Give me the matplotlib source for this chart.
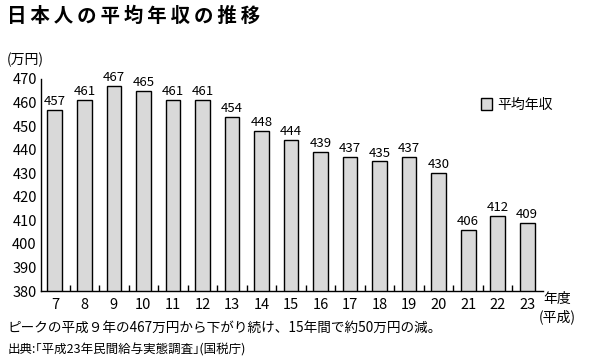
import matplotlib
matplotlib.use("Agg")
import matplotlib.pyplot as plt
from matplotlib.ticker import FixedLocator

plt.rcParams['font.family'] = ['Noto Sans CJK JP', 'DejaVu Sans']

years = ["7", "8", "9", "10", "11", "12", "13", "14", "15", "16", "17", "18", "19", "20", "21", "22", "23"]
income = [457, 461, 467, 465, 461, 461, 454, 448, 444, 439, 437, 435, 437, 430, 406, 412, 409]
yticks = [380, 390, 400, 410, 420, 430, 440, 450, 460, 470]

fig = plt.figure(figsize=(5.9, 3.62), dpi=100)
ax = fig.add_axes([0.0695, 0.196, 0.851, 0.586])

x = list(range(len(years)))
ax.bar(x, income, width=0.5, color="#d9d9d9", edgecolor="black", linewidth=1.0, label="平均年収")
for xi, v in zip(x, income):
    ax.text(xi, v + 0.8, str(v), ha="center", va="bottom", fontsize=9.5)

ax.set_ylim(380, 470)
ax.set_xlim(-0.47, len(years) - 0.46)
ax.set_yticks(yticks)
ax.set_yticklabels([str(t) for t in yticks], fontsize=10.5)
ax.tick_params(axis="y", length=0, pad=3)
ax.set_xticks(x)
ax.set_xticklabels(years, fontsize=10.5)
ax.tick_params(axis="x", which="major", length=0, pad=5)
ax.xaxis.set_minor_locator(FixedLocator([i + 0.5 for i in range(len(years) - 1)]))
ax.tick_params(axis="x", which="minor", direction="in", length=4, width=1)
for s in ["top", "right"]:
    ax.spines[s].set_visible(False)
for s in ["left", "bottom"]:
    ax.spines[s].set_linewidth(1.0)

leg = ax.legend(loc="upper right", bbox_to_anchor=(1.045, 0.97), frameon=False, fontsize=10,
                handlelength=0.8, handleheight=0.9, handletextpad=0.4)

title = "日本人の平均年収の推移"
fig.text(0.012, 0.955, "\u2009".join(title), fontsize=14, fontweight="bold", va="center", ha="left")
fig.text(0.012, 0.835, "(万円)", fontsize=10, va="center", ha="left")
fig.text(0.945, 0.175, "年度", fontsize=10, va="center", ha="center")
fig.text(0.945, 0.125, "(平成)", fontsize=10, va="center", ha="center")
fig.text(0.012, 0.095, "ピークの平成９年の467万円から下がり続け、15年間で約50万円の減。", fontsize=9.8, va="center", ha="left")
fig.text(0.012, 0.032, "出典:｢平成23年民間給与実態調査｣(国税庁)", fontsize=9, va="center", ha="left")

fig.savefig("out.png", dpi=100)
